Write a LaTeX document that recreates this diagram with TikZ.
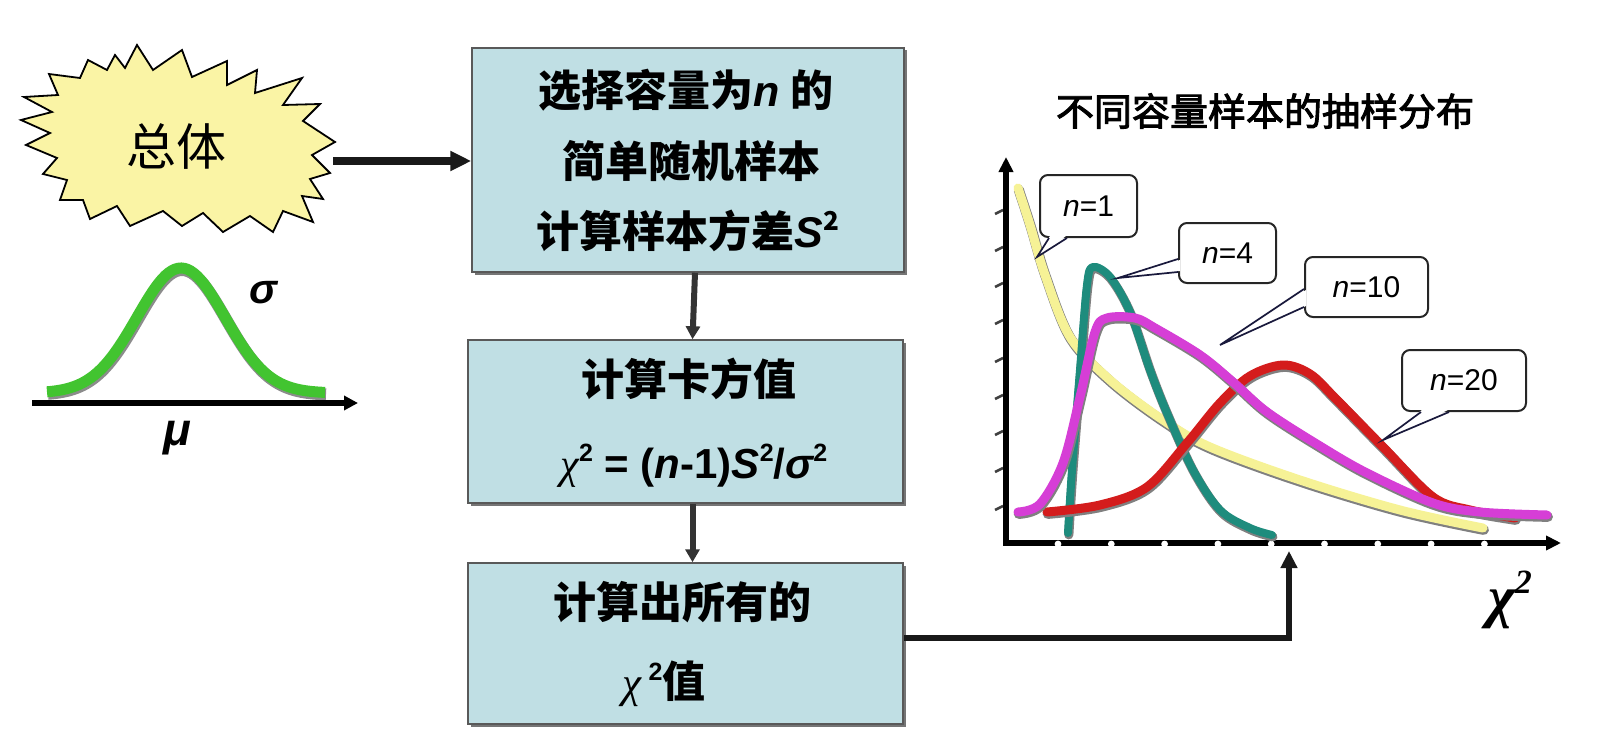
\documentclass[tikz,border=0pt]{standalone}
\usepackage{fontspec}
\usetikzlibrary{arrows.meta,shadows,calc}
\newfontfamily\cjk{Noto Sans CJK SC}
\newfontfamily\cjkm{Noto Sans CJK SC}[FakeBold=2.5]
\newfontfamily\lat{Liberation Sans}
\newfontfamily\ser{Liberation Serif}
\definecolor{boxfill}{RGB}{192,223,228}
\definecolor{burst}{RGB}{250,244,165}
\definecolor{bellgreen}{RGB}{66,196,48}
\definecolor{tealc}{RGB}{30,140,125}
\definecolor{magc}{RGB}{214,62,214}
\definecolor{redc}{RGB}{212,28,28}
\definecolor{yelc}{RGB}{246,242,150}
\definecolor{navy}{RGB}{25,25,60}
\newcommand{\fs}[1]{\fontsize{#1}{#1}\selectfont}
\newcommand{\sqd}[1]{\raisebox{0.4em}{\fs{#1}2}}
\newcommand{\ribbon}[3]{%
  \draw[line width=#2pt+1.2pt, black!50, shift={(0.8,1.8)}, line cap=round, line join=round]
    plot[smooth, tension=0.55] coordinates {#3};
  \draw[line width=#2pt, #1, line cap=round, line join=round]
    plot[smooth, tension=0.55] coordinates {#3};}
\begin{document}
\begin{tikzpicture}[x=1pt,y=-1pt,
  box/.style={draw=black!65, line width=1.5pt, fill=boxfill, inner sep=0pt,
    drop shadow={shadow xshift=2.5pt, shadow yshift=-2.5pt, opacity=0.9, fill=black!60}},
  btxt/.style={font=\cjk\bfseries\fs{43}, inner sep=0pt},
  arr/.style={line width=8pt, black!90, -{Triangle[length=21pt,width=19pt]}},
  conn/.style={line width=6.5pt, black!90, -{Triangle[length=17pt,width=16pt]}},
  varr/.style={line width=6pt, black!80, -{Triangle[length=13pt,width=14pt]}},
  call/.style={draw=black!85, line width=2pt, fill=white, rounded corners=8pt, inner sep=0pt},
  ctxt/.style={font=\lat\fs{30}, inner sep=0pt},
  ptr/.style={draw=navy, line width=1.7pt, line join=miter},
  axisl/.style={line width=6pt, black, {Triangle[length=15pt,width=14pt]}-{Triangle[length=15pt,width=14pt]}}
]
\useasboundingbox (0,0) rectangle (1606,741);

% ---------- population starburst ----------
\draw[fill=burst, line width=1.8pt, line join=miter]
 (137,45) -- (153,70) -- (182,50) -- (192,77) -- (227,61) -- (227,85) -- (257,70) -- (255,93)
 -- (302,78) -- (283,105) -- (320,104) -- (303,121) -- (335,142) -- (312,155) -- (330,173)
 -- (310,179) -- (323,199) -- (302,196) -- (313,222) -- (283,211) -- (273,232) -- (250,216)
 -- (223,232) -- (203,213) -- (182,226) -- (163,211) -- (130,226) -- (117,206) -- (90,219)
 -- (83,200) -- (60,200) -- (67,180) -- (43,174) -- (57,158) -- (26,145) -- (50,133)
 -- (21,120) -- (52,112) -- (24,97) -- (58,95) -- (49,74) -- (80,78) -- (88,60) -- (107,70)
 -- (115,55) -- (125,68) -- cycle;
\node[font=\cjk\fs{50}, inner sep=0pt] (pop) at (176,146) {总体};

% ---------- normal curve ----------
\draw[line width=12pt, black!45, shift={(1,2)}]
  plot[domain=47:325, samples=90] (\x, {393-125*exp(-0.5*((\x-181)/44)^2)});
\draw[line width=11pt, bellgreen]
  plot[domain=47:325, samples=90] (\x, {393-125*exp(-0.5*((\x-181)/44)^2)});
\coordinate (ba) at (32,403);
\coordinate (bb) at (358,403);
\draw[line width=6pt, black, -{Triangle[length=14pt,width=14pt]}] (ba) -- (bb);
\node[font=\lat\bfseries\itshape\fs{42}, inner sep=0pt] (sig) at (263,293) {σ};
\node[font=\lat\bfseries\itshape\fs{46}, inner sep=0pt] (mu) at (177,438) {μ};

% ---------- flow boxes ----------
\node[box, minimum width=432pt, minimum height=224pt] (b1) at (688,160) {};
\node[box, minimum width=435pt, minimum height=163pt] (b2) at (685.5,421.5) {};
\node[box, minimum width=435pt, minimum height=161pt] (b3) at (685.5,643.5) {};

\node[btxt] (t11) at (686,90) {选择容量为{\lat\itshape n} 的};
\node[btxt] (t12) at (691,161) {简单随机样本};
\node[btxt] (t13) at (688,231) {计算样本方差{\lat\itshape S}\sqd{26}};
\node[btxt] (t21) at (689,379) {计算卡方值};
\node[font=\lat\bfseries\fs{42}, inner sep=0pt] (t22) at (694,466)
  {{\ser\mdseries\itshape χ}\sqd{25} = ({\itshape n}-1){\itshape S}\sqd{25}/{\itshape σ}\sqd{25}};
\node[btxt] (t31) at (682,602) {计算出所有的};
\node[btxt] (t32) at (664,684) {{\ser\mdseries\itshape χ}\,{\lat\sqd{25}}值};

\coordinate (pe) at (333,161);
\draw[arr] (pe) -- (pe -| b1.west);
\draw[varr] ([xshift=7pt]b1.south) -- ([xshift=7pt]b2.north);
\draw[varr] ([xshift=7pt]b2.south) -- ([xshift=7pt]b3.north);

% ---------- chart ----------
\node[font=\cjkm\fs{38}, inner sep=0pt] (title) at (1265,111) {不同容量样本的抽样分布};

\coordinate (O) at (1006,543);
\coordinate (ytop) at (1006,157);
\coordinate (xend) at (1561,543);
\foreach \yy in {212,249,285,322,360,397,433,470,508}
  \draw[line width=2.5pt, black!75] (995,\yy+2) -- (1003,\yy-2);
\draw[axisl] (ytop) -- (O) -- (xend);
\foreach \k in {0,...,8}
  \fill[white] ({1058+53.3*\k},544) circle (3.4);

\ribbon{yelc}{9}{(1018,188) (1030,225) (1045,275) (1070,337) (1110,380) (1163,420) (1210,447) (1300,480) (1400,510) (1483,528)}
\ribbon{tealc}{8}{(1068,533) (1072,470) (1080,370) (1087,285) (1093,267) (1110,277) (1130,312) (1150,370) (1167,413) (1193,470) (1220,510) (1250,528) (1272,535)}
\ribbon{redc}{9}{(1047,512) (1100,505) (1147,487) (1187,443) (1220,403) (1250,376) (1283,365) (1310,374) (1335,398) (1383,447) (1433,497) (1470,510) (1515,518)}
\ribbon{magc}{9}{(1018,512) (1040,504) (1063,463) (1080,397) (1095,332) (1107,318) (1135,318) (1155,328) (1200,355) (1233,382) (1267,412) (1320,446) (1367,473) (1433,503) (1480,512) (1547,515)}

% connector from box 3 to the chart axis
\coordinate (xa) at (1289,551);
\draw[conn] ([yshift=5.5pt]b3.east) -| (xa);

\node[font=\ser\bfseries\itshape\fs{58}, inner sep=0pt] (chi) at (1510,600) {χ\sqd{34}};

% ---------- callouts ----------
\node[call, minimum width=97pt, minimum height=62pt] (c1) at (1088.5,206) {};
\node[ctxt] at (c1) {{\itshape n}=1};
\coordinate (p1) at (1037,257);
\fill[white] ($(c1.south west)+(11,-2)$) -- (p1) -- ($(c1.south west)+(27,-2)$) -- cycle;
\draw[ptr] ($(c1.south west)+(10,0)$) -- (p1) -- ($(c1.south west)+(28,0)$);

\node[call, minimum width=97pt, minimum height=60pt] (c2) at (1227.5,253) {};
\node[ctxt] at (c2) {{\itshape n}=4};
\coordinate (p2) at (1118,278);
\fill[white] ($(c2.north west)+(2,38)$) -- (p2) -- ($(c2.north west)+(2,49)$) -- cycle;
\draw[ptr] ($(c2.north west)+(0,37)$) -- (p2) -- ($(c2.north west)+(0,50)$);

\node[call, minimum width=123pt, minimum height=60pt] (c3) at (1366.5,287) {};
\node[ctxt] at (c3) {{\itshape n}=10};
\coordinate (p3) at (1220,345);
\fill[white] ($(c3.north west)+(2,34)$) -- (p3) -- ($(c3.north west)+(2,50)$) -- cycle;
\draw[ptr] ($(c3.north west)+(0,33)$) -- (p3) -- ($(c3.north west)+(0,51)$);

\node[call, minimum width=124pt, minimum height=61pt] (c4) at (1464,380.5) {};
\node[ctxt] at (c4) {{\itshape n}=20};
\coordinate (p4) at (1383,440);
\fill[white] ($(c4.south west)+(21,-2)$) -- (p4) -- ($(c4.south west)+(47,-2)$) -- cycle;
\draw[ptr] ($(c4.south west)+(20,0)$) -- (p4) -- ($(c4.south west)+(48,0)$);
\end{tikzpicture}
\end{document}
